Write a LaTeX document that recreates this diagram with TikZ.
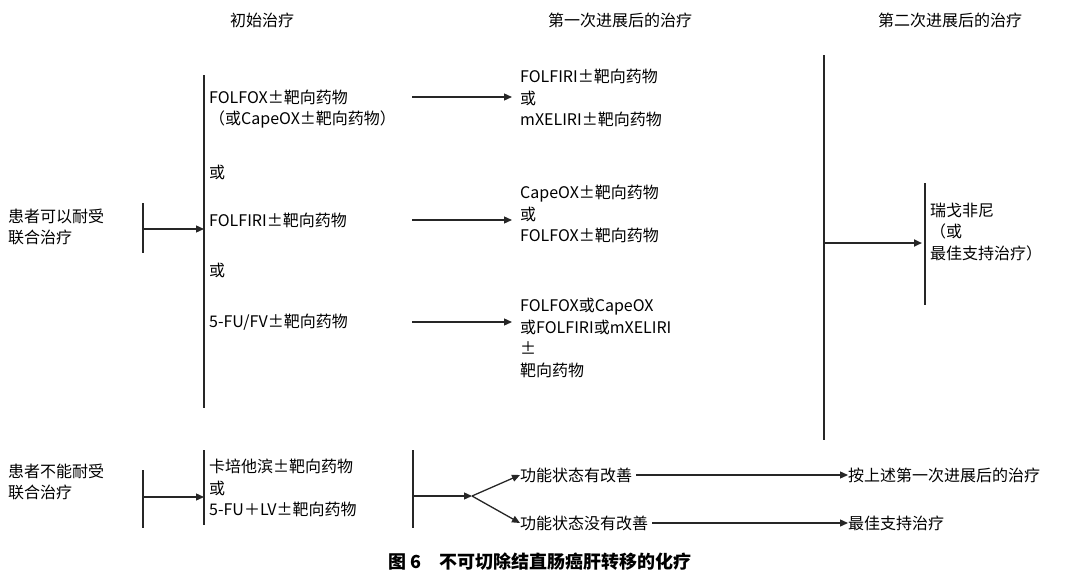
\documentclass[tikz,border=0pt]{standalone}
\usepackage{fontspec}
\setmainfont{Noto Sans CJK SC}
\usetikzlibrary{arrows.meta}
\begin{document}
\begin{tikzpicture}[x=1pt,y=-1pt,
  txt/.style={anchor=west,inner sep=0pt,font=\fontsize{16}{21.5}\selectfont,align=left},
  hd/.style={inner sep=0pt,font=\fontsize{16}{21}\selectfont},
  ln/.style={line width=1.3pt,black!85},
  ar/.style={ln,-{Triangle[length=8pt,width=7pt]}}]
\useasboundingbox (0,0) rectangle (1080,579);
\node[hd] (h1) at (262,20) {初始治疗};
\node[hd] (h2) at (620,20) {第一次进展后的治疗};
\node[hd] (h3) at (950,20) {第二次进展后的治疗};
% upper
\node[txt] (p1) at (8,227) {患者可以耐受\\联合治疗};
\coordinate (b1t) at (143,203); \coordinate (b1b) at (143,253);
\draw[ln] (b1t) -- (b1b);
\coordinate (b1m) at (143,229); \coordinate (v1m) at (204,229);
\draw[ar] (b1m) -- (v1m);
\coordinate (v1t) at (204,75); \coordinate (v1b) at (204,408);
\draw[ln] (v1t) -- (v1b);
\node[txt] (t1) at (209,109) {FOLFOX±靶向药物\\（或CapeOX±靶向药物）};
\node[txt] (o1) at (209,172) {或};
\node[txt] (t2) at (209,220) {FOLFIRI±靶向药物};
\node[txt] (o2) at (209,270) {或};
\node[txt] (t3) at (209,322) {5-FU/FV±靶向药物};
\node[txt] (s1) at (520,98) {FOLFIRI±靶向药物\\或\\mXELIRI±靶向药物};
\node[txt] (s2) at (520,214) {CapeOX±靶向药物\\或\\FOLFOX±靶向药物};
\node[txt] (s3) at (520,338) {FOLFOX或CapeOX\\或FOLFIRI或mXELIRI\\±\\靶向药物};
\foreach \y/\n in {97/a,220/b,322/c}{
  \coordinate (l\n) at (412,\y); \coordinate (r\n) at (512,\y);
  \draw[ar] (l\n) -- (r\n);}
\coordinate (v2t) at (824,55); \coordinate (v2b) at (824,440);
\draw[ln,line width=2pt] (v2t) -- (v2b);
\coordinate (v2m) at (824,243); \coordinate (v3m) at (922,243);
\draw[ar,line width=2pt] (v2m) -- (v3m);
\coordinate (v3t) at (925,183); \coordinate (v3b) at (925,305);
\draw[ln] (v3t) -- (v3b);
\node[txt] (z) at (930,232) {瑞戈非尼\\（或\\最佳支持治疗）};
% lower
\node[txt] (p2) at (8,482) {患者不能耐受\\联合治疗};
\coordinate (b2t) at (143,470); \coordinate (b2b) at (143,528);
\draw[ln] (b2t) -- (b2b);
\coordinate (b2m) at (143,497); \coordinate (v4m) at (204,497);
\draw[ar] (b2m) -- (v4m);
\coordinate (v4t) at (204,450); \coordinate (v4b) at (204,525);
\draw[ln] (v4t) -- (v4b);
\node[txt] (c1) at (209,488) {卡培他滨±靶向药物\\或\\5-FU＋LV±靶向药物};
\coordinate (v5t) at (413,450); \coordinate (v5b) at (413,528);
\draw[ln] (v5t) -- (v5b);
\coordinate (v5m) at (413,496); \coordinate (fk) at (472,496);
\draw[ar] (v5m) -- (fk);
\node[txt] (f1) at (520,475) {功能状态有改善};
\node[txt] (f2) at (520,523) {功能状态没有改善};
\draw[ar] (fk) -- (f1.west);
\draw[ar] (fk) -- (f2.west);
\node[txt] (g1) at (848,475) {按上述第一次进展后的治疗};
\node[txt] (g2) at (848,523) {最佳支持治疗};
\draw[ar] ([xshift=4pt]f1.east) -- (g1.west);
\draw[ar] ([xshift=4pt]f2.east) -- (g2.west);
\node[hd,font=\fontsize{18}{21}\selectfont\bfseries] (cap) at (540,562) {图 6\quad 不可切除结直肠癌肝转移的化疗};
\end{tikzpicture}
\end{document}
